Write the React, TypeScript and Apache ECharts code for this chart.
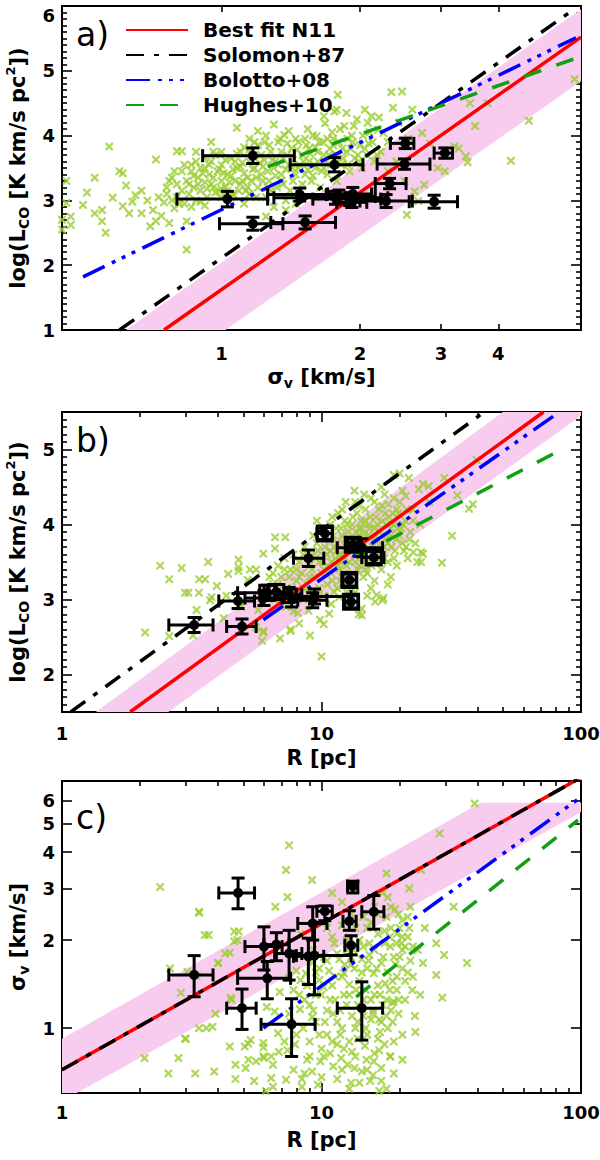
import React, { useEffect, useRef } from "react";
import * as echarts from "echarts";

const FONT = "DejaVu Sans";
const GREEN_X = "#9acd32";
const PINK = "#f7ccee";
const XPATH = "path://M0,0L2,0L5,3L8,0L10,0L10,2L7,5L10,8L10,10L8,10L5,7L2,10L0,10L0,8L3,5L0,2Z";

const SERIES_NAMES = ["Best fit N11", "Solomon+87", "Bolotto+08", "Hughes+10"];
const LINE_COLORS = ["#ff0000", "#000000", "#0000ff", "#11a011"];
const LINE_DASH: any[] = ["solid", [18, 10, 5, 10], [24, 8, 4, 7, 4, 7, 4, 8], [18, 16]];

// ---------------- tick labels ----------------
const aXMajor = [1, 2, 3, 4];
const aYMajor = [1, 2, 3, 4, 5, 6];
const bcXMajor = [1, 10, 100];
const bcXMinor = [2, 3, 4, 5, 6, 7, 8, 9, 20, 30, 40, 50, 60, 70, 80, 90];
const bYMajor = [2, 3, 4, 5];
const cYMajor = [1, 2, 3, 4, 5, 6];

const aXRange = [0.45, 6.05];
const aYRange = [1, 6];
const bXRange = [1, 100];
const bYRange = [1.5, 5.5];
const cXRange = [1, 100];
const cYRange = [0.6, 7];

// ---------------- black clouds (N11) ----------------
const cloudR = [3.23, 4.77, 4.94, 7.67, 14.3, 6.18, 6.0, 6.7, 7.5, 8.9, 9.4, 9.25, 10.3, 12.8, 13.0, 13.2, 15.9];
const cloudRlo = [2.58, 4.02, 4.31, 5.85, 11.5, 4.75, 5.07, 6.0, 6.6, 7.8, 8.0, 8.1, 9.6, 12.1, 12.3, 12.6, 14.3];
const cloudRhi = [3.82, 5.52, 5.6, 9.45, 17.2, 7.6, 7.05, 7.5, 8.4, 10.2, 13.0, 10.5, 11.0, 13.6, 13.8, 13.8, 17.4];
const cloudSig = [1.52, 2.9, 1.17, 1.03, 1.17, 1.48, 1.9, 1.93, 1.8, 1.76, 1.77, 2.28, 2.51, 2.32, 1.92, 3.06, 2.5];
const cloudSigLo = [1.28, 2.56, 0.99, 0.8, 0.91, 1.26, 1.58, 1.7, 1.46, 1.41, 1.3, 2.0, 2.33, 2.16, 1.78, 2.9, 2.18];
const cloudSigHi = [1.77, 3.26, 1.36, 1.26, 1.44, 1.69, 2.22, 2.12, 2.16, 2.03, 2.3, 2.6, 2.62, 2.52, 2.07, 3.18, 2.84];
const cloudL = [2.66, 2.98, 2.64, 3.02, 3.69, 3.09, 3.02, 3.1, 3.06, 3.55, 3.04, 2.99, 3.88, 3.26, 2.97, 3.73, 3.56];
const cloudLerr = [0.1, 0.1, 0.1, 0.12, 0.12, 0.1, 0.1, 0.1, 0.1, 0.11, 0.1, 0.1, 0.08, 0.08, 0.08, 0.08, 0.08];
const cloudBoxedB = [0, 0, 0, 0, 0, 1, 0, 1, 0, 0, 0, 0, 1, 1, 1, 1, 1];

// ---------------- panel a: sigma_v vs log L_CO ----------------
const aCrosses = [
  [0.45, 2.55], [0.45, 2.7], [0.46, 2.96], [0.46, 3.3], [0.47, 2.62], [0.47, 2.75], [0.5, 2.93], [0.51, 3.12],
  [0.53, 3.35], [0.53, 2.8], [0.55, 2.85], [0.55, 2.68], [0.56, 2.5], [0.57, 3.83], [0.58, 3.04], [0.6, 3.45],
  [0.61, 3.42], [0.61, 2.91], [0.62, 3.23], [0.63, 2.8], [0.64, 2.98], [0.65, 3.08], [0.67, 2.8], [0.67, 3.15],
  [0.69, 3.0], [0.7, 2.6], [0.71, 2.85], [0.72, 3.63], [0.72, 2.68], [0.73, 3.05], [0.74, 2.76], [0.75, 2.97],
  [0.76, 3.2], [0.77, 2.65], [0.78, 3.35], [0.8, 3.76], [0.82, 3.76], [0.84, 2.24], [0.84, 2.68], [0.86, 2.9],
  [0.76, 3.1], [0.78, 3.0], [0.79, 2.88], [0.8, 3.25], [0.8, 3.05], [0.82, 3.15], [0.83, 2.95], [0.84, 3.3],
  [0.85, 3.1], [0.86, 3.45], [0.87, 3.2], [0.88, 3.0], [0.89, 3.35], [0.9, 3.5], [0.9, 3.15], [0.92, 3.28],
  [0.93, 3.05], [0.94, 3.4], [0.95, 3.6], [0.96, 3.2], [0.97, 3.12], [0.98, 3.45], [1.0, 3.3], [1.0, 3.55],
  [1.02, 3.2], [1.03, 3.4], [1.05, 3.65], [1.06, 3.1], [1.07, 3.3], [1.08, 3.5], [1.1, 3.25], [1.1, 3.75],
  [1.12, 3.42], [1.13, 3.15], [1.15, 3.6], [1.16, 3.3], [1.18, 3.5], [1.2, 3.85], [1.2, 3.2], [1.22, 3.4],
  [1.24, 3.62], [1.25, 3.05], [1.27, 3.3], [1.28, 3.75], [1.3, 3.5], [1.08, 4.12], [1.2, 4.07], [1.3, 4.17],
  [1.37, 4.01], [1.4, 4.07], [1.54, 4.1], [0.95, 3.9], [1.0, 3.05], [0.92, 2.92], [1.12, 2.95],
  [1.32, 3.2], [1.33, 3.9], [1.35, 3.4], [1.36, 3.65], [1.38, 3.0], [1.4, 3.55], [1.42, 3.8], [1.43, 3.3],
  [1.45, 3.95], [1.47, 3.5], [1.48, 3.15], [1.5, 3.7], [1.52, 3.4], [1.53, 3.85], [1.55, 3.6], [1.57, 3.3],
  [1.58, 4.0], [1.6, 3.5], [1.61, 3.99], [1.62, 3.75], [1.64, 3.2], [1.66, 3.9], [1.68, 3.6], [1.68, 4.19],
  [1.7, 3.4], [1.72, 3.8], [1.74, 4.05], [1.76, 4.37], [1.76, 3.65], [1.78, 3.3], [1.79, 4.63], [1.8, 3.9],
  [1.82, 3.55], [1.85, 4.15], [1.87, 3.75], [1.9, 3.45], [1.92, 4.0], [1.95, 3.65], [1.97, 4.25], [2.0, 3.85],
  [2.02, 3.5], [2.05, 4.4], [2.07, 3.7], [2.09, 3.88], [2.12, 4.3], [2.15, 3.6], [2.19, 4.09], [2.2, 4.28],
  [2.22, 3.75], [2.25, 4.04], [2.3, 3.9], [1.67, 4.3], [1.87, 4.35], [1.78, 4.4], [1.45, 2.95], [1.38, 2.85],
  [1.3, 2.9], [1.6, 3.05], [1.25, 2.75],
  [0.77, 3.3], [0.79, 3.45], [0.81, 2.95], [0.83, 3.55], [0.85, 3.25], [0.87, 3.38], [0.88, 3.6], [0.9, 2.98],
  [0.91, 3.42], [0.93, 3.18], [0.94, 3.55], [0.96, 3.35], [0.97, 3.7], [0.99, 3.15], [1.01, 3.42], [1.02, 3.62],
  [1.04, 3.28], [1.05, 3.05], [1.06, 3.48], [1.08, 3.72], [1.09, 3.15], [1.11, 3.58], [1.12, 3.82], [1.14, 3.35],
  [1.15, 3.1], [1.17, 3.48], [1.18, 3.7], [1.19, 3.05], [1.21, 3.58], [1.23, 3.3], [1.24, 3.9], [1.26, 3.45],
  [1.28, 3.15], [1.29, 3.62], [1.31, 3.38], [1.33, 3.55], [1.35, 3.75], [1.36, 3.25], [1.38, 3.48], [1.39, 3.88],
  [1.41, 3.15], [1.43, 3.62], [1.45, 3.4], [1.46, 3.78], [1.48, 3.55], [1.5, 3.25], [1.52, 3.95], [1.54, 3.48],
  [1.56, 3.72], [1.58, 3.38], [1.6, 3.82], [1.62, 3.6], [1.65, 3.45], [1.67, 3.7], [1.7, 3.95], [1.73, 3.55],
  [1.75, 3.85], [1.78, 3.7], [1.81, 4.1], [1.84, 3.65], [1.88, 3.95], [1.91, 3.8], [1.94, 4.15], [1.98, 3.7],
  [2.03, 4.0], [2.08, 4.2], [2.13, 3.9], [2.18, 3.7], [1.0, 3.75], [0.92, 3.65], [1.15, 3.95], [1.25, 4.0],
  [0.88, 3.75], [0.82, 3.45],
  [0.95, 3.25], [0.99, 3.48], [1.03, 3.15], [1.07, 3.6], [1.11, 3.3], [1.15, 3.78], [1.19, 3.35], [1.23, 3.52],
  [1.27, 3.85], [1.31, 3.6], [1.35, 3.3], [1.39, 3.7], [1.43, 3.5], [1.47, 3.9], [1.51, 3.6], [1.55, 3.8],
  [1.59, 3.55], [1.63, 3.9], [1.67, 3.5], [1.71, 3.7], [1.75, 3.95], [1.79, 3.6], [1.83, 3.8], [1.88, 3.55],
  [1.93, 3.9], [1.99, 3.6], [2.05, 3.8], [2.1, 4.05], [0.86, 3.55], [0.89, 3.25], [0.92, 3.5], [0.96, 3.75],
  [1.0, 3.18], [1.05, 3.38], [1.1, 3.52], [1.14, 3.2], [1.18, 3.9], [1.22, 3.7], [1.26, 3.2], [1.34, 3.95],
  [2.34, 4.67], [2.36, 4.43], [2.43, 4.2], [2.47, 4.68], [2.6, 4.4], [2.73, 4.04], [2.84, 3.88], [2.4, 3.6],
  [2.5, 3.3], [2.63, 3.14], [2.68, 2.99], [2.53, 2.78], [2.76, 3.24], [2.95, 3.5], [3.06, 3.45], [3.21, 3.83],
  [3.28, 3.8], [3.4, 3.68], [3.43, 3.59], [3.56, 4.15], [3.47, 4.5], [3.79, 4.5], [4.26, 3.61], [4.66, 4.23],
  [5.86, 4.87], [2.55, 3.95], [2.3, 3.45],
];
const aFitN11 = [[0.75, 1.0], [6.05, 5.52]];
const aSolomon = [[0.6, 1.0], [5.9, 5.97]];
const aBolotto = [[0.5, 1.82], [5.9, 5.51]];
const aHughes = [[1.26, 3.52], [6.05, 5.22]];
const aBand = [[0.62, 1.0], [6.05, 5.95], [6.05, 4.84], [1.02, 1.0]];

// ---------------- panel b: R vs log L_CO ----------------
const bCrosses = [
  [2.09, 2.56], [2.39, 3.45], [2.59, 3.27], [2.59, 2.51], [2.89, 3.42], [2.98, 3.09], [3.07, 3.09], [3.3, 2.86],
  [3.37, 3.09], [3.38, 3.27], [3.56, 3.27], [3.66, 3.5], [3.72, 2.99], [3.77, 3.03], [3.95, 3.18], [4.3, 3.05],
  [4.37, 3.34], [4.79, 3.53], [4.79, 3.43], [4.79, 3.38], [5.2, 3.26], [5.3, 3.4], [5.6, 3.4], [5.7, 2.86],
  [5.6, 2.63], [5.97, 2.58], [5.97, 3.61], [5.9, 2.45], [5.97, 2.56], [4.9, 2.9], [4.2, 2.75], [3.2, 2.52],
  [6.62, 3.83], [7.25, 3.83], [6.62, 3.68], [6.92, 2.48], [7.6, 2.58], [7.8, 2.84], [8.1, 2.82], [8.2, 2.68],
  [9.03, 2.52], [9.87, 2.73], [10.2, 2.67], [10.0, 2.24], [6.3, 3.3], [6.5, 3.2], [6.8, 3.45], [7.0, 3.3],
  [7.2, 3.55], [7.4, 3.15], [7.6, 3.4], [7.8, 3.6], [8.0, 3.25], [8.2, 3.5], [8.4, 3.35], [8.6, 3.7],
  [8.8, 3.2], [9.0, 3.45], [9.2, 3.6], [9.4, 3.3], [9.6, 3.75], [9.8, 3.5], [6.9, 2.95], [7.3, 2.9],
  [8.5, 3.0], [8.9, 2.85], [9.5, 3.05], [7.6, 2.6], [6.6, 3.0],
  [10.2, 3.4], [10.5, 3.6], [10.7, 3.8], [10.9, 3.5], [11.0, 3.25], [11.2, 3.7], [11.4, 3.95], [11.6, 3.45],
  [11.8, 3.6], [12.0, 3.85], [12.2, 3.35], [12.4, 3.7], [12.6, 4.0], [12.8, 3.5], [13.0, 3.8], [13.2, 4.1],
  [13.4, 3.6], [13.6, 3.9], [13.8, 3.4], [14.0, 3.75], [14.2, 4.05], [14.4, 3.55], [14.6, 3.85], [14.8, 4.2],
  [15.0, 3.65], [15.3, 3.95], [15.6, 3.45], [15.9, 3.8], [16.2, 4.1], [16.5, 3.6], [16.8, 3.9], [17.1, 4.25],
  [17.4, 3.7], [17.7, 4.0], [18.0, 3.5], [18.4, 3.85], [18.8, 4.15], [19.2, 3.65], [19.6, 3.95], [20.0, 4.3],
  [20.5, 3.75], [21.0, 4.05], [21.5, 3.55], [22.0, 3.9], [10.9, 2.94], [11.7, 3.03], [12.4, 2.95], [13.9, 2.8],
  [16.3, 3.06], [17.3, 3.02], [17.2, 2.99], [16.1, 2.97], [14.3, 2.79], [14.3, 2.88], [10.7, 2.81], [11.5, 3.15],
  [12.5, 3.2], [14.5, 3.3], [15.5, 3.15], [18.5, 3.3], [19.5, 3.45], [11.0, 4.1], [12.0, 4.2], [13.5, 4.3],
  [15.5, 4.35], [14.0, 4.25], [10.2, 3.95], [9.6, 4.05],
  [9.0, 3.3], [9.5, 3.55], [10.0, 3.35], [10.3, 3.7], [10.6, 3.45], [10.8, 3.65], [11.1, 3.85], [11.3, 3.55],
  [11.5, 3.75], [11.7, 3.4], [11.9, 3.95], [12.1, 3.6], [12.3, 3.8], [12.5, 3.45], [12.7, 3.9], [12.9, 3.65],
  [13.1, 4.0], [13.3, 3.7], [13.5, 3.5], [13.7, 4.15], [13.9, 3.85], [14.1, 3.6], [14.3, 3.95], [14.5, 3.75],
  [14.7, 4.05], [14.9, 3.5], [15.1, 3.85], [15.4, 4.1], [15.7, 3.7], [16.0, 3.95], [16.3, 3.5], [16.6, 4.2],
  [16.9, 3.75], [17.2, 4.05], [17.5, 3.55], [17.8, 3.85], [18.2, 4.1], [18.6, 3.7], [19.0, 4.0], [19.4, 3.8],
  [19.8, 4.15], [20.3, 3.95], [20.8, 3.65], [21.3, 4.2], [21.8, 3.8], [22.5, 4.05], [23.0, 3.75], [10.5, 3.2],
  [11.2, 3.1], [12.0, 3.3], [13.0, 3.2], [14.0, 3.45], [15.0, 3.35], [16.0, 3.25], [17.0, 3.4], [18.0, 3.2],
  [8.0, 3.4], [8.5, 3.6], [9.3, 3.85], [7.5, 3.3], [7.0, 3.1], [8.0, 3.05], [9.8, 3.15],
  [9.2, 3.4], [9.7, 3.65], [10.1, 3.5], [10.4, 3.85], [10.9, 3.35], [11.4, 3.65], [11.9, 3.5], [12.3, 4.05],
  [12.8, 3.75], [13.2, 3.35], [13.6, 3.6], [14.0, 3.95], [14.4, 3.7], [14.8, 3.4], [15.2, 4.0], [15.6, 3.6],
  [16.0, 3.8], [16.4, 4.0], [16.8, 3.65], [17.2, 3.85], [17.6, 4.15], [18.0, 3.75], [18.5, 3.95], [19.0, 3.55],
  [19.5, 4.2], [20.0, 3.85], [20.6, 4.0], [21.2, 3.7], [12.5, 3.1], [13.5, 3.1], [15.0, 3.05], [11.8, 3.25],
  [10.2, 3.05], [9.0, 3.1], [8.5, 3.15], [8.2, 3.3], [7.7, 3.15], [7.2, 3.4], [6.8, 3.2], [6.5, 3.35],
  [10.8, 4.0], [11.6, 4.15], [12.4, 4.3], [13.4, 4.45], [14.6, 4.4], [16.0, 4.3], [17.5, 4.4], [19.0, 4.35],
  [22.6, 3.63], [24.2, 3.63], [24.2, 3.5], [31.8, 3.85], [23.4, 3.5], [24.6, 3.61], [29.1, 3.49], [33.4, 4.39],
  [37.0, 4.21], [38.3, 4.27], [29.7, 4.62], [24.6, 4.54], [23.7, 4.47], [20.0, 4.68], [21.7, 4.62], [25.9, 4.51],
  [39.6, 4.86], [18.1, 4.27], [21.1, 4.38], [19.0, 4.66], [22.5, 4.2], [24.0, 4.0], [26.0, 4.3], [20.5, 4.45],
  [17.0, 4.5],
];
const bFitN11 = [[1.83, 1.5], [71.7, 5.5]];
const bSolomon = [[1.08, 1.5], [42.4, 5.5]];
const bBolotto = [[5.97, 2.73], [79.4, 5.46]];
const bHughes = [[13.6, 3.57], [86.4, 5.02]];
const bBand = [[1.35, 1.5], [50, 5.5], [100, 5.5], [100, 5.45], [2.57, 1.5]];

// ---------------- panel c: R vs sigma_v ----------------
const cCrosses = [
  [2.08, 0.79], [2.39, 3.04], [2.57, 0.7], [3.0, 0.92], [3.26, 0.7], [3.37, 2.5], [3.37, 1.0], [3.67, 2.08],
  [3.8, 1.01], [3.86, 0.71], [3.99, 1.67], [4.43, 1.81], [4.43, 0.865], [4.5, 1.25], [4.66, 0.75], [4.66, 0.67],
  [4.74, 2.0], [4.8, 2.14], [5.06, 0.865], [5.23, 0.78], [5.33, 0.91], [5.5, 0.66], [5.97, 0.89], [6.0, 0.79],
  [6.4, 0.8], [6.5, 0.75], [6.5, 0.63], [2.61, 1.6], [3.04, 1.56], [3.3, 1.51], [2.87, 1.32], [3.6, 1.0],
  [3.9, 1.12], [4.47, 1.27], [2.98, 0.92], [2.81, 0.79], [4.61, 2.14], [4.61, 1.98], [4.25, 1.8], [4.0, 1.67],
  [3.55, 2.08], [3.38, 2.48],
  [7.5, 4.22], [7.3, 3.47], [7.4, 2.81], [6.64, 2.6], [9.2, 3.21], [5.22, 0.885], [5.97, 0.86], [5.97, 0.8],
  [5.1, 0.73], [5.6, 0.77], [6.85, 0.83], [7.4, 0.84], [6.4, 0.675], [7.3, 0.666], [8.4, 0.67], [6.1, 0.61],
  [8.4, 0.63], [9.2, 0.71], [9.9, 0.77], [11.1, 0.74], [11.9, 0.79], [12.6, 0.75], [13.4, 0.73], [14.3, 0.71],
  [14.9, 0.78], [15.9, 0.77], [16.7, 0.84], [18.4, 0.8], [17.0, 0.73], [15.4, 0.66], [16.7, 0.61], [13.1, 0.83],
  [16.7, 1.07], [15.5, 1.07], [13.1, 1.1], [11.1, 1.12], [9.2, 1.09], [8.26, 1.16], [7.5, 1.12], [6.6, 1.14],
  [6.15, 1.18], [6.9, 1.33], [7.5, 1.48], [8.0, 1.57], [8.3, 1.46], [8.7, 1.54], [9.2, 1.67], [9.8, 1.46],
  [10.7, 1.57], [11.7, 1.72], [12.2, 1.54], [12.8, 1.41], [13.4, 1.6], [14.3, 1.72], [15.3, 1.78], [15.9, 1.54],
  [17.0, 1.67], [17.6, 1.42], [18.4, 1.9], [19.5, 2.1], [20.5, 2.34], [19.2, 2.55], [17.2, 2.9], [11.0, 2.9],
  [10.5, 2.2], [8.3, 2.1], [7.8, 1.35], [8.6, 1.25], [9.5, 1.3], [10.2, 1.38], [11.3, 1.25], [12.2, 1.3],
  [13.6, 1.35], [14.5, 1.25], [16.0, 1.3], [17.2, 1.2], [18.3, 1.35], [19.5, 1.5], [20.0, 1.75], [21.0, 1.9],
  [19.0, 1.23], [22.9, 1.1], [20.5, 0.95], [18.0, 1.0], [12.0, 1.0], [10.5, 0.95], [9.0, 0.9], [8.0, 0.95],
  [10.0, 0.85], [11.5, 0.88], [13.8, 0.92], [15.0, 0.95], [16.5, 0.92], [14.0, 2.0], [15.0, 2.2], [16.5, 2.1],
  [12.5, 1.85], [11.2, 1.95], [10.2, 1.75], [9.3, 1.85], [13.0, 2.45], [12.0, 2.7], [17.8, 2.4], [18.5, 2.2],
  [20.5, 2.05], [21.5, 2.4],
  [8.5, 1.0], [9.0, 1.2], [9.5, 1.05], [10.0, 1.3], [10.5, 1.15], [11.0, 1.4], [11.5, 1.05], [12.0, 1.5],
  [12.5, 1.2], [13.0, 1.65], [13.5, 1.0], [14.0, 1.45], [14.5, 1.1], [15.0, 1.6], [15.5, 1.25], [16.0, 1.85],
  [16.5, 1.4], [17.0, 1.05], [17.5, 1.95], [18.0, 1.55], [18.5, 1.15], [19.0, 1.75], [19.5, 1.35], [20.0, 2.2],
  [20.5, 1.6], [21.0, 1.25], [21.5, 2.05], [22.0, 1.7], [10.2, 0.8], [11.0, 0.9], [12.2, 0.85], [13.5, 0.8],
  [14.7, 0.87], [16.0, 0.82], [17.5, 0.88], [19.0, 0.9], [9.5, 1.55], [10.5, 1.7], [11.5, 1.8], [12.5, 2.0],
  [13.5, 2.2], [14.5, 1.9], [15.5, 2.3], [16.5, 2.45], [17.5, 2.15], [18.5, 2.6], [19.5, 1.95], [20.5, 1.85],
  [21.5, 1.55], [22.5, 1.9], [14.0, 0.65], [12.8, 0.62], [11.5, 0.67], [9.7, 0.64], [15.8, 0.69], [17.8, 0.62],
  [8.8, 0.78], [7.8, 0.72],
  [8.2, 1.3], [8.8, 1.4], [9.3, 1.15], [9.8, 1.6], [10.3, 1.05], [10.8, 1.25], [11.3, 1.5], [11.8, 1.15],
  [12.3, 1.65], [12.8, 1.3], [13.3, 1.85], [13.8, 1.2], [14.3, 1.55], [14.8, 1.35], [15.3, 1.95], [15.8, 1.15],
  [16.3, 1.6], [16.8, 1.3], [17.3, 1.75], [17.8, 1.1], [18.3, 2.05], [18.8, 1.45], [19.3, 1.65], [19.8, 1.25],
  [20.3, 1.95], [21.0, 1.45], [21.8, 2.2], [22.4, 1.35], [9.0, 0.8], [9.8, 0.95], [10.8, 0.82], [11.8, 0.95],
  [12.8, 0.9], [13.8, 1.05], [14.8, 1.0], [15.8, 1.12], [16.8, 0.97], [17.8, 1.25], [18.8, 1.05], [19.8, 1.12],
  [7.2, 0.9], [7.6, 1.05], [6.8, 0.96], [7.9, 0.88], [8.6, 0.7], [10.0, 0.68], [12.0, 0.72], [13.0, 0.65],
  [15.0, 0.72], [17.0, 0.66], [19.0, 0.7], [20.5, 0.78], [11.0, 2.05], [12.0, 2.25], [14.5, 2.4], [16.0, 2.6],
  [18.0, 2.8], [19.8, 2.45], [13.0, 1.75], [15.2, 1.7],
  [38.9, 5.86], [28.5, 4.63], [24.2, 3.47], [21.8, 3.0], [17.8, 3.38], [32.3, 2.6], [27.7, 1.95], [29.7, 1.78],
  [24.6, 1.67], [27.7, 1.52], [29.2, 1.27], [36.4, 1.67], [23.0, 0.97], [18.4, 0.8], [18.7, 1.22], [22.5, 1.5],
  [23.5, 1.85], [25.0, 2.2], [22.0, 2.6], [24.0, 1.3],
];
const cFitN11 = [[1, 0.72], [100, 7.2]];
const cSolomon = [[1, 0.72], [100, 7.2]];
const cBolotto = [[5.97, 1.0], [100, 6.17]];
const cHughes = [[13.6, 1.28], [97.3, 5.14]];
const cBand = [[1, 0.92], [41, 5.9], [100, 5.9], [100, 5.48], [1.14, 0.6], [1, 0.6]];

// ---------------- helpers ----------------
const lg = (v: number) => Math.log10(v);
const id = (v: number) => v;
function tenths(a: number, b: number) {
  const out: number[] = [];
  for (let k = Math.round(a * 10) + 1; k < Math.round(b * 10); k++) if (k % 10 !== 0) out.push(k / 10);
  return out;
}

const rich = {
  m: { fontFamily: FONT, fontSize: 21, fontWeight: "bold", color: "#000", lineHeight: 27 },
  s: { fontFamily: FONT, fontSize: 14, fontWeight: "bold", color: "#000", lineHeight: 14, verticalAlign: "bottom" },
  p: { fontFamily: FONT, fontSize: 13, fontWeight: "bold", color: "#000", lineHeight: 13, verticalAlign: "top" },
};
const SIGMA_NAME = "{m|σ}{s|v}{m| [km/s]}";
const LOGL_NAME = "{m|log(L}{s|CO}{m| [K km/s pc}{p|2}{m|])}";
const R_NAME = "{m|R [pc]}";

function renderCloud(params: any, api: any) {
  const x = api.value(0), y = api.value(1);
  const c = api.coord([x, y]);
  const xl = api.coord([api.value(2), y])[0];
  const xh = api.coord([api.value(3), y])[0];
  const yl = api.coord([x, api.value(4)])[1];
  const yh = api.coord([x, api.value(5)])[1];
  const cap = 6.5;
  const st = { stroke: "#000", lineWidth: 3 };
  const children: any[] = [
    { type: "line", shape: { x1: xl, y1: c[1], x2: xh, y2: c[1] }, style: st },
    { type: "line", shape: { x1: xl, y1: c[1] - cap, x2: xl, y2: c[1] + cap }, style: st },
    { type: "line", shape: { x1: xh, y1: c[1] - cap, x2: xh, y2: c[1] + cap }, style: st },
    { type: "line", shape: { x1: c[0], y1: yl, x2: c[0], y2: yh }, style: st },
    { type: "line", shape: { x1: c[0] - cap, y1: yl, x2: c[0] + cap, y2: yl }, style: st },
    { type: "line", shape: { x1: c[0] - cap, y1: yh, x2: c[0] + cap, y2: yh }, style: st },
    { type: "circle", shape: { cx: c[0], cy: c[1], r: 5 }, style: { fill: "#000" } },
  ];
  if (api.value(6)) {
    children.push({ type: "rect", shape: { x: c[0] - 7.5, y: c[1] - 7.5, width: 15, height: 15 }, style: { fill: "none", stroke: "#000", lineWidth: 3 } });
  }
  return { type: "group", children };
}

function buildOption() {
  const panels = [
    {
      top: 6, height: 324, tx: lg, ty: id, xr: aXRange, yr: aYRange,
      xMaj: aXMajor, xMin: [] as number[], yMaj: aYMajor, yMin: tenths(1, 6),
      xLen: 6, yLen: 10, xMargin: 14, xName: SIGMA_NAME, yName: LOGL_NAME, xGap: 33, topLabelDown: true,
      crosses: aCrosses, band: aBand, lines: [aFitN11, aSolomon, aBolotto, aHughes],
      cloud: (i: number) => [lg(cloudSig[i]), cloudL[i], lg(cloudSigLo[i]), lg(cloudSigHi[i]), cloudL[i] - cloudLerr[i], cloudL[i] + cloudLerr[i], 0],
      label: "a)", labelY: 34,
    },
    {
      top: 412, height: 300, tx: lg, ty: id, xr: bXRange, yr: bYRange,
      xMaj: bcXMajor, xMin: bcXMinor, yMaj: bYMajor, yMin: tenths(1.5, 5.5),
      xLen: 10, yLen: 10, xMargin: 12, xName: R_NAME, yName: LOGL_NAME, xGap: 32, topLabelDown: false,
      crosses: bCrosses, band: bBand, lines: [bFitN11, bSolomon, bBolotto, bHughes],
      cloud: (i: number) => [lg(cloudR[i]), cloudL[i], lg(cloudRlo[i]), lg(cloudRhi[i]), cloudL[i] - cloudLerr[i], cloudL[i] + cloudLerr[i], cloudBoxedB[i]],
      label: "b)", labelY: 440,
    },
    {
      top: 781, height: 312, tx: lg, ty: lg, xr: cXRange, yr: cYRange,
      xMaj: bcXMajor, xMin: bcXMinor, yMaj: cYMajor, yMin: [] as number[],
      xLen: 10, yLen: 10, xMargin: 10, xName: R_NAME, yName: SIGMA_NAME, xGap: 33, topLabelDown: false,
      crosses: cCrosses, band: cBand, lines: [cFitN11, cSolomon, cBolotto, cHughes],
      cloud: (i: number) => [lg(cloudR[i]), lg(cloudSig[i]), lg(cloudRlo[i]), lg(cloudRhi[i]), lg(cloudSigLo[i]), lg(cloudSigHi[i]), 0],
      label: "c)", labelY: 817,
    },
  ];

  const grid: any[] = [];
  const xAxis: any[] = [];
  const yAxis: any[] = [];
  const series: any[] = [];
  const graphicEls: any[] = [];

  const base = (gridIndex: number, position: string, range: number[], tf: any, ticks: number[], len: number) => ({
    type: "value", gridIndex, position,
    min: tf(range[0]), max: tf(range[1]),
    axisLine: { show: true, onZero: false, lineStyle: { color: "#000", width: 2 } },
    axisTick: ticks.length
      ? { show: true, inside: true, length: len, customValues: ticks.map(tf), lineStyle: { color: "#000", width: 1.6 } }
      : { show: false },
    axisLabel: { show: false },
    splitLine: { show: false },
    axisPointer: { show: false },
  });
  const fmt = (tf: any) => (v: number) => String(Math.round(tf === lg ? Math.pow(10, v) : v));
  const labelText = { fontFamily: FONT, fontSize: 18, fontWeight: "bold", color: "#000" };

  panels.forEach((P, p) => {
    const g0 = 2 * p, g1 = 2 * p + 1;
    grid.push({ left: 62, right: 19, top: P.top, height: P.height, outerBoundsMode: "none", containLabel: false });
    grid.push({ left: 62, right: 19, top: P.top, height: P.height, outerBoundsMode: "none", containLabel: false });

    xAxis.push({
      ...base(g0, "bottom", P.xr, P.tx, P.xMaj, P.xLen),
      axisLabel: { show: true, customValues: P.xMaj.map(P.tx), formatter: fmt(P.tx), margin: P.xMargin, ...labelText },
      name: P.xName, nameLocation: "middle", nameGap: P.xGap,
      nameTextStyle: { fontFamily: FONT, fontSize: 21, fontWeight: "bold", color: "#000", rich },
    });
    xAxis.push(base(g0, "top", P.xr, P.tx, P.xMaj, P.xLen));
    xAxis.push(base(g1, "bottom", P.xr, P.tx, P.xMin, 5));
    xAxis.push(base(g1, "top", P.xr, P.tx, P.xMin, 5));

    yAxis.push({
      ...base(g0, "left", P.yr, P.ty, P.yMaj, P.yLen),
      axisLabel: {
        show: true, customValues: P.yMaj.map(P.ty), formatter: fmt(P.ty), margin: 7, ...labelText,
        ...(P.topLabelDown ? { verticalAlignMaxLabel: "top" } : {}),
      },
      name: P.yName, nameLocation: "middle", nameGap: 31, nameRotate: 90,
      nameTextStyle: { fontFamily: FONT, fontSize: 21, fontWeight: "bold", color: "#000", rich },
    });
    yAxis.push(base(g0, "right", P.yr, P.ty, P.yMaj, P.yLen));
    yAxis.push(base(g1, "left", P.yr, P.ty, P.yMin, 5));
    yAxis.push(base(g1, "right", P.yr, P.ty, P.yMin, 5));

    const xi = 4 * p, yi = 4 * p;
    const bandPts = P.band;
    series.push({
      type: "custom", xAxisIndex: xi, yAxisIndex: yi, clip: true, silent: true, z: 1,
      encode: { x: 0, y: 1 },
      data: [[P.tx(bandPts[0][0]), P.ty(bandPts[0][1])]],
      renderItem: (params: any, api: any) => ({
        type: "polygon",
        shape: { points: bandPts.map((v) => api.coord([P.tx(v[0]), P.ty(v[1])])) },
        style: { fill: PINK },
      }),
    });
    series.push({
      type: "scatter", xAxisIndex: xi, yAxisIndex: yi, clip: true, silent: true, z: 2,
      symbol: XPATH, symbolSize: 8, itemStyle: { color: GREEN_X },
      data: P.crosses.map((v) => [P.tx(v[0]), P.ty(v[1])]),
    });
    P.lines.forEach((ln, k) => {
      series.push({
        type: "line", name: SERIES_NAMES[k], xAxisIndex: xi, yAxisIndex: yi, clip: true, silent: true, z: 3,
        symbol: "none",
        lineStyle: { color: LINE_COLORS[k], width: 3.5, type: LINE_DASH[k] },
        itemStyle: { color: LINE_COLORS[k] },
        data: ln.map((v) => [P.tx(v[0]), P.ty(v[1])]),
      });
    });
    series.push({
      type: "custom", xAxisIndex: xi, yAxisIndex: yi, clip: true, silent: true, z: 4,
      encode: { x: 0, y: 1 },
      data: cloudR.map((_, i) => P.cloud(i)),
      renderItem: renderCloud,
    });

    graphicEls.push({
      type: "text", x: 76, y: P.labelY, z: 10,
      style: { text: P.label, fontFamily: FONT, fontSize: 33, fill: "#000", align: "left", verticalAlign: "middle" },
    });
  });

  return {
    animation: false,
    backgroundColor: "#fff",
    grid, xAxis, yAxis, series,
    legend: {
      data: SERIES_NAMES, orient: "vertical", left: 120, top: 15,
      itemWidth: 62, itemHeight: 14, itemGap: 5, selectedMode: false,
      itemStyle: { color: "rgba(0,0,0,0)", borderColor: "rgba(0,0,0,0)", borderWidth: 0, opacity: 0 },
      textStyle: { fontFamily: FONT, fontSize: 20, fontWeight: "bold", color: "#000", lineHeight: 20, padding: [0, 0, 0, 10] },
    },
    graphic: { elements: graphicEls },
  };
}

export default function App() {
  const ref = useRef<HTMLDivElement>(null);
  useEffect(() => {
    document.body.style.margin = "0";
    const chart = echarts.init(ref.current!, null, { renderer: "svg" });
    chart.setOption(buildOption() as any);
    return () => chart.dispose();
  }, []);
  return <div ref={ref} style={{ width: 600, height: 1160, background: "#fff" }} />;
}
